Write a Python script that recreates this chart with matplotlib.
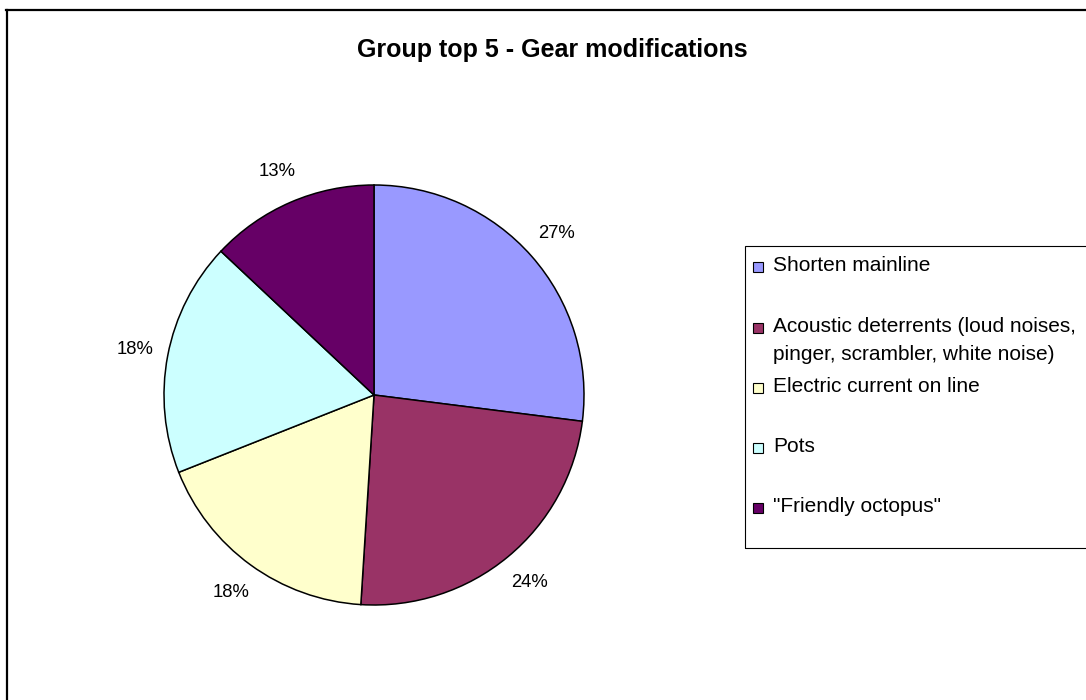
import matplotlib.pyplot as plt
from matplotlib.patches import Rectangle
from matplotlib.lines import Line2D

plt.rcParams['font.family'] = ['Liberation Sans', 'DejaVu Sans']

# data
labels = ['Shorten mainline',
          'Acoustic deterrents (loud noises,\npinger, scrambler, white noise)',
          'Electric current on line',
          'Pots',
          '"Friendly octopus"']
values = [27, 24, 18, 18, 13]
colors = ['#9999FF', '#993366', '#FFFFCC', '#CCFFFF', '#660066']
title = 'Group top 5 - Gear modifications'

W, H = 1086, 700
fig = plt.figure(figsize=(W / 100, H / 100), dpi=100)


def fx(x):
    return x / W


def fy(y):
    return 1 - y / H


# outer chart border (cut off on the right and bottom)
fig.add_artist(Line2D([fx(7), fx(7)], [fy(10), fy(705)], color='black', lw=1.6,
                      transform=fig.transFigure))
fig.add_artist(Line2D([fx(6), fx(1090)], [fy(10), fy(10)], color='black', lw=1.6,
                      transform=fig.transFigure))

fig.text(fx(552), fy(57), title, ha='center', va='baseline', fontsize=18,
         fontweight='bold')

# pie
cx, cy, r = 374, 395, 210
ax = fig.add_axes([fx(cx - r), fy(cy + r), 2 * r / W, 2 * r / H])
wedges, texts, autotexts = ax.pie(values, colors=colors, startangle=90,
                                  counterclock=False, autopct='%1.0f%%',
                                  pctdistance=1.16,
                                  wedgeprops=dict(edgecolor='black', linewidth=1.1),
                                  textprops=dict(fontsize=13.3))
for w in wedges:
    w.set_clip_on(False)
ax.set_xlim(-1, 1)
ax.set_ylim(-1, 1)
ax.set_aspect('equal')
ax.axis('off')

# legend (box runs off the right edge)
fig.add_artist(Rectangle((fx(745), fy(548)), fx(1100) - fx(745), fy(246) - fy(548),
                         transform=fig.transFigure, facecolor='none',
                         edgecolor='black', lw=0.8))
leg_base = [271, 332, 392, 452, 512]
for lab, col, y in zip(labels, colors, leg_base):
    fig.add_artist(Rectangle((fx(753), fy(y + 1)), 10 / W, 10 / H,
                             transform=fig.transFigure, facecolor=col,
                             edgecolor='black', lw=0.8))
    for i, line in enumerate(lab.split('\n')):
        fig.text(fx(773), fy(y + 28 * i), line, ha='left', va='baseline',
                 fontsize=15)

fig.savefig('out.png', dpi=100)
